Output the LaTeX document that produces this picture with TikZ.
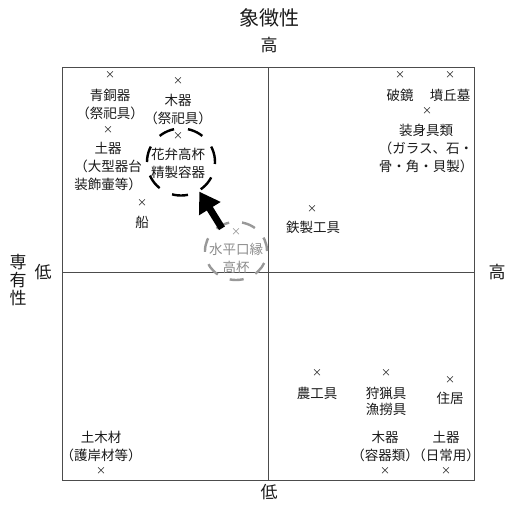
\documentclass[tikz,border=0pt]{standalone}
\usepackage{fontspec}
\setmainfont{Noto Sans CJK JP}
\usetikzlibrary{shapes.geometric,arrows.meta}

\begin{document}
\begin{tikzpicture}[x=1pt, y=-1pt,
    lbl/.style={font=\fontsize{13.5}{18}\selectfont, align=center, inner sep=0pt, text=black!90},
    grylbl/.style={lbl, text=black!45},
    xmark/.style={font=\fontsize{10}{10}\selectfont, inner sep=0pt, text=black!90},
    axislbl/.style={font=\fontsize{17}{18}\selectfont, inner sep=0pt, text=black!90},
    ring/.style={draw, ellipse, inner sep=0pt, line width=2.4pt},
    frame/.style={draw=black!70, line width=1pt}]
    \useasboundingbox (0,0) rectangle (508,509);

    % frame and axes
    \draw[frame] (62,67) rectangle (474,480);
    \coordinate (ytop) at (268,67);
    \coordinate (ybot) at (268,480);
    \coordinate (xleft) at (62,272.5);
    \coordinate (xright) at (474,272.5);
    \draw[frame] (ytop) -- (ybot);
    \draw[frame] (xleft) -- (xright);

    % axis labels
    \node (title) [axislbl, font=\fontsize{20}{20}\selectfont] at (269,18) {象徴性};
    \node (tophigh) [axislbl] at (269,45) {高};
    \node (botlow) [axislbl] at (269,492) {低};
    \node (lefttitle) [axislbl, align=center, font=\fontsize{17}{18}\selectfont] at (18,280) {専\\有\\性};
    \node (leftlow) [axislbl] at (43,272) {低};
    \node (righthigh) [axislbl] at (497,272) {高};

    % upper left
    \node (seidoX) [xmark] at (110,75) {×};
    \node (seido) [lbl] at (110,104) {青銅器\\（祭祀具）};
    \node (mokkiX) [xmark] at (178,81) {×};
    \node (mokki) [lbl] at (178,109) {木器\\（祭祀具）};
    \node (dokiX) [xmark] at (108,130) {×};
    \node (doki) [lbl] at (108,166) {土器\\（大型器台\\装飾壷等）};
    \node (kabenX) [xmark] at (178,136) {×};
    \node (kaben) [lbl] at (178,163) {花弁高杯\\精製容器};
    \node (funeX) [xmark] at (142,203) {×};
    \node (fune) [lbl] at (142,222) {船};

    % rings and arrow
    \node (kabenring) [ring, dash pattern=on 16pt off 14pt, minimum width=68pt, minimum height=67pt] at (181,162) {};
    \node (suiheiX) [xmark, text=black!45] at (236,232) {×};
    \node (suihei) [grylbl] at (236,258.5) {水平口縁\\高杯};
    \node (suiheiring) [ring, draw=black!40, dash pattern=on 14pt off 13pt, minimum width=62pt, minimum height=58pt] at (236,251) {};
    \draw[line width=7pt, shorten <=-4pt, -{Triangle[length=20pt, width=24pt]}] (suiheiring) -- (kabenring);

    % upper right
    \node (hakyoX) [xmark] at (400,75) {×};
    \node (hakyo) [lbl] at (400,95) {破鏡};
    \node (funkyuX) [xmark] at (450,75) {×};
    \node (funkyu) [lbl] at (450,95) {墳丘墓};
    \node (soshinX) [xmark] at (427,111) {×};
    \node (soshin) [lbl] at (426,148) {装身具類\\（ガラス、石・\\骨・角・貝製）};
    \node (tetsuX) [xmark] at (312,209) {×};
    \node (tetsu) [lbl] at (313,227) {鉄製工具};

    % lower right
    \node (nokoX) [xmark] at (317,373) {×};
    \node (noko) [lbl] at (317,393) {農工具};
    \node (shuryoX) [xmark] at (386,373) {×};
    \node (shuryo) [lbl, font=\fontsize{13.5}{16}\selectfont] at (386,401) {狩猟具\\漁撈具};
    \node (jukyoX) [xmark] at (450,380) {×};
    \node (jukyo) [lbl] at (450,398) {住居};
    \node (mokki2) [lbl] at (385,446) {木器\\（容器類）};
    \node (mokki2X) [xmark] at (385,471) {×};
    \node (doki2) [lbl] at (446,446) {土器\\（日常用）};
    \node (doki2X) [xmark] at (446,471) {×};

    % lower left
    \node (dobokuzai) [lbl] at (101,446) {土木材\\（護岸材等）};
    \node (dobokuzaiX) [xmark] at (101,471) {×};
\end{tikzpicture}
\end{document}
